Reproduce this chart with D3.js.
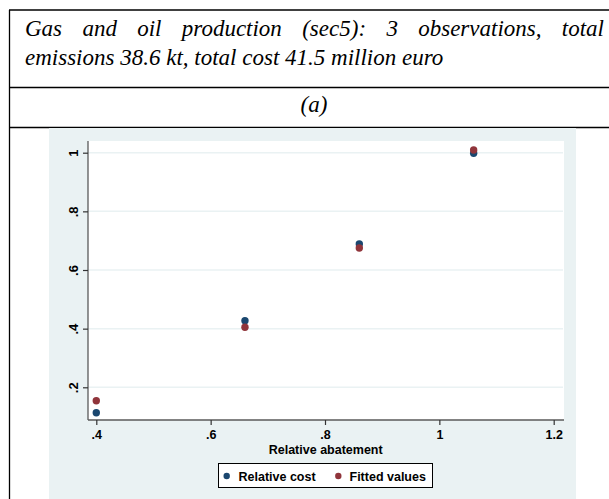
<!DOCTYPE html>
<html>
<head>
<meta charset="utf-8">
<script src="https://cdn.jsdelivr.net/npm/d3@7"></script>
<style>
  html, body { margin: 0; padding: 0; background: #ffffff; }
  svg { display: block; }
</style>
</head>
<body>
<svg id="chart" width="609" height="499"></svg>
<script>
// Sector heading and panel label
const titleLine1 = ["Gas", "and", "oil", "production", "(sec5):", "3", "observations,", "total"];
const titleLine2 = "emissions 38.6 kt, total cost 41.5 million euro";
const panelLabel = "(a)";

// Observations: relative abatement vs relative cost, with fitted values
const abatement = [0.4, 0.66, 0.86, 1.06];
const relativeCost = [0.113, 0.427, 0.689, 0.998];
const fittedValues = [0.154, 0.405, 0.675, 1.009];

const xTicks = [0.4, 0.6, 0.8, 1.0, 1.2];
const yTicks = [0.2, 0.4, 0.6, 0.8, 1.0];
const seriesNames = ["Relative cost", "Fitted values"];
const xTitle = "Relative abatement";

const navy = "#1a476f", maroon = "#90353b", panelBg = "#eaf2f3";
const fmt = v => (v === 1 ? "1" : String(v).replace(/^0(?=\.)/, ""));

const svg = d3.select("#chart");

// Table frame
const frame = svg.append("g").attr("stroke", "#000").attr("stroke-width", 1.3);
frame.append("line").attr("x1", 9).attr("x2", 620).attr("y1", 10).attr("y2", 10);
frame.append("line").attr("x1", 9.5).attr("x2", 9.5).attr("y1", 10).attr("y2", 499);
frame.append("line").attr("x1", 9).attr("x2", 620).attr("y1", 87.5).attr("y2", 87.5);
frame.append("line").attr("x1", 9).attr("x2", 620).attr("y1", 127.5).attr("y2", 127.5);

// Justified heading line
const serif = "'Liberation Serif', 'Times New Roman', serif";
const tl = svg.append("g").attr("font-family", serif).attr("font-style", "italic")
  .attr("font-size", 23).attr("fill", "#000");
const left = 25, right = 604;
const words = tl.selectAll("text.w").data(titleLine1).join("text")
  .attr("class", "w").attr("y", 36).text(d => d);
const widths = [];
words.each(function () { widths.push(this.getComputedTextLength()); });
const gap = (right - left - d3.sum(widths)) / (titleLine1.length - 1);
let cx = left;
words.attr("x", (d, i) => { const x = cx; cx += widths[i] + gap; return x; });

tl.append("text").attr("x", left).attr("y", 65).text(titleLine2);
tl.append("text").attr("x", 314).attr("y", 112).attr("text-anchor", "middle").text(panelLabel);

// Graph region
svg.append("rect").attr("x", 49).attr("y", 128).attr("width", 527).attr("height", 371)
  .attr("fill", panelBg);
svg.append("rect").attr("x", 88).attr("y", 141).attr("width", 476).attr("height", 279)
  .attr("fill", "#ffffff");

const x = d3.scaleLinear().domain([0.4, 1.2]).range([96.3, 553.7]);
const y = d3.scaleLinear().domain([0.2, 1.0]).range([387.3, 152.7]);

// Horizontal grid lines
svg.append("g").selectAll("line").data(yTicks).join("line")
  .attr("x1", 88).attr("x2", 563).attr("y1", d => y(d)).attr("y2", d => y(d))
  .attr("stroke", panelBg).attr("stroke-width", 1.5);

const sans = "'Liberation Sans', Arial, sans-serif";
const labelSize = 12.5;

// Y axis
const yAxis = svg.append("g").attr("transform", "translate(88,0)")
  .call(d3.axisLeft(y).tickValues(yTicks).tickFormat(fmt).tickSize(5).tickPadding(6));
yAxis.select(".domain").attr("stroke", "#5a5a5a").attr("stroke-width", 1.3)
  .attr("d", "M0,141V420");
yAxis.selectAll(".tick line").attr("stroke", "#333").attr("stroke-width", 1.2);
yAxis.selectAll(".tick text")
  .attr("font-family", sans).attr("font-weight", "bold").attr("font-size", 13)
  .attr("fill", "#000")
  .attr("x", 0).attr("dy", null).attr("text-anchor", "middle")
  .attr("transform", "translate(-10.5,0) rotate(-90)")
  .attr("y", 0);

// X axis
const xAxis = svg.append("g").attr("transform", "translate(0,420)")
  .call(d3.axisBottom(x).tickValues(xTicks).tickFormat(fmt).tickSize(5).tickPadding(5.5));
xAxis.select(".domain").attr("stroke", "#5a5a5a").attr("stroke-width", 1.3)
  .attr("d", "M88,0H564");
xAxis.selectAll(".tick line").attr("stroke", "#333").attr("stroke-width", 1.2);
xAxis.selectAll(".tick text")
  .attr("font-family", sans).attr("font-weight", "bold").attr("font-size", labelSize)
  .attr("fill", "#000");

svg.append("text").attr("x", 325.7).attr("y", 454).attr("text-anchor", "middle")
  .attr("font-family", sans).attr("font-weight", "bold").attr("font-size", labelSize)
  .text(xTitle);

// Markers
const pts = svg.append("g");
pts.selectAll("circle.cost").data(abatement).join("circle").attr("class", "cost")
  .attr("cx", d => x(d)).attr("cy", (d, i) => y(relativeCost[i])).attr("r", 3.7)
  .attr("fill", navy);
pts.selectAll("circle.fit").data(abatement).join("circle").attr("class", "fit")
  .attr("cx", d => x(d)).attr("cy", (d, i) => y(fittedValues[i])).attr("r", 3.7)
  .attr("fill", maroon);

// Legend
const lg = svg.append("g");
lg.append("rect").attr("x", 218.5).attr("y", 463.5).attr("width", 214).attr("height", 24)
  .attr("fill", "#fff").attr("stroke", "#000").attr("stroke-width", 1);
const items = [
  { name: seriesNames[0], color: navy, mx: 226.7, tx: 238.5 },
  { name: seriesNames[1], color: maroon, mx: 338.3, tx: 349.5 }
];
items.forEach(it => {
  lg.append("circle").attr("cx", it.mx).attr("cy", 476).attr("r", 3.2).attr("fill", it.color);
  lg.append("text").attr("x", it.tx).attr("y", 481)
    .attr("font-family", sans).attr("font-weight", "bold").attr("font-size", labelSize)
    .text(it.name);
});
</script>
</body>
</html>
